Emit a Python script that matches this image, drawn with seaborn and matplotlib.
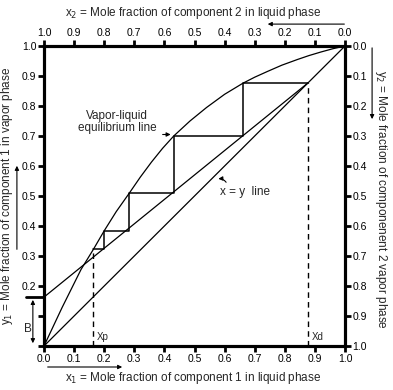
import matplotlib
matplotlib.use("Agg")
import matplotlib.pyplot as plt
import seaborn as sns
import pandas as pd

# ---- data ----
eq_x = [0.0, 0.06, 0.123, 0.164, 0.2, 0.24, 0.283, 0.32, 0.357, 0.394, 0.431, 0.485, 0.54,
        0.6, 0.661, 0.70, 0.742, 0.79, 0.842, 0.88, 0.92, 0.96, 1.0]
eq_y = [0.0, 0.128, 0.255, 0.322, 0.384, 0.448, 0.509, 0.563, 0.613, 0.659, 0.70, 0.750, 0.795,
        0.839, 0.876, 0.896, 0.915, 0.936, 0.955, 0.968, 0.98, 0.991, 1.0]
diag_x = [0.0, 1.0]
diag_y = [0.0, 1.0]
op_x = [0.0, 0.877]
op_y = [0.163, 0.877]
step_x = [0.877, 0.661, 0.661, 0.431, 0.431, 0.283, 0.283, 0.2, 0.2, 0.164]
step_y = [0.876, 0.876, 0.70, 0.70, 0.509, 0.509, 0.384, 0.384, 0.322, 0.322]
xp = 0.164
xp_top = 0.322
xd = 0.877
B = 0.163
ticks = [0.0, 0.1, 0.2, 0.3, 0.4, 0.5, 0.6, 0.7, 0.8, 0.9, 1.0]
tick_labels = ["0.0", "0.1", "0.2", "0.3", "0.4", "0.5", "0.6", "0.7", "0.8", "0.9", "1.0"]
left_labels = ["", "", "0.2", "0.3", "0.4", "0.5", "0.6", "0.7", "0.8", "0.9", "1.0"]

sns.set_style("ticks")
plt.rcParams["font.family"] = ["Liberation Sans", "DejaVu Sans"]

fig = plt.figure(figsize=(3.93, 3.90), dpi=100)
ax = fig.add_axes([44 / 393, 44 / 390, 301 / 393, 300 / 390])

lc = "black"
sns.lineplot(x=eq_x, y=eq_y, ax=ax, color=lc, lw=0.9, sort=False, estimator=None)
sns.lineplot(x=diag_x, y=diag_y, ax=ax, color=lc, lw=0.9, sort=False, estimator=None)
sns.lineplot(x=op_x, y=op_y, ax=ax, color=lc, lw=0.9, sort=False, estimator=None)
sns.lineplot(x=step_x, y=step_y, ax=ax, color=lc, lw=1.1, sort=False, estimator=None)
ax.plot([xp, xp], [0, xp_top], color=lc, lw=1.0, ls=(0, (4, 3)))
ax.plot([xd, xd], [0, xd], color=lc, lw=1.0, ls=(0, (4, 3)))

ax.set_xlim(0, 1)
ax.set_ylim(0, 1)
ax.set_xticks(ticks)
ax.set_xticklabels(tick_labels)
ax.set_yticks(ticks)
ax.set_yticklabels(left_labels)
ax.set_xlabel("")
ax.set_ylabel("")

ax2 = ax.twiny()
ax2.set_xlim(1, 0)
ax2.set_xticks(ticks)
ax2.set_xticklabels(tick_labels)
ax3 = ax.twinx()
ax3.set_ylim(1, 0)
ax3.set_yticks(ticks)
ax3.set_yticklabels(tick_labels)

for a in (ax, ax2, ax3):
    for s in a.spines.values():
        s.set_linewidth(2.2)
        s.set_color("black")
    a.tick_params(direction="out", length=4, width=2, pad=1.5, labelsize=7.5, colors="black")

fs = 8.5
# axis titles
ax.text(0.495, -0.107, "x$_1$ = Mole fraction of component 1 in liquid phase",
        ha="center", va="center", fontsize=fs, transform=ax.transAxes)
ax.text(0.495, 1.11, "x$_2$ = Mole fraction of component 2 in liquid phase",
        ha="center", va="center", fontsize=fs, transform=ax.transAxes)
ax.text(-0.123, 0.5, "y$_1$ = Mole fraction of component 1 in vapor phase",
        ha="center", va="center", rotation=90, fontsize=fs, transform=ax.transAxes)
ax.text(1.12, 0.49, "y$_2$ = Mole fraction of componenent 2 vapor phase",
        ha="center", va="center", rotation=-90, fontsize=fs, transform=ax.transAxes)

arr = dict(arrowstyle="-|>", color="black", lw=0.8, mutation_scale=6)
ax.annotate("", xy=(0.734, 1.073), xytext=(1.007, 1.073), xycoords="axes fraction",
            arrowprops=arr, annotation_clip=False)
ax.annotate("", xy=(0.269, -0.07), xytext=(0.003, -0.07), xycoords="axes fraction",
            arrowprops=arr, annotation_clip=False)
ax.annotate("", xy=(-0.09, 0.61), xytext=(-0.09, 0.313), xycoords="axes fraction",
            arrowprops=arr, annotation_clip=False)
ax.annotate("", xy=(1.09, 0.747), xytext=(1.09, 1.003), xycoords="axes fraction",
            arrowprops=arr, annotation_clip=False)

# B marker
ax.plot([-0.06, 0.0], [B, B], color="black", lw=2, clip_on=False)
ax.annotate("", xy=(-0.037, B), xytext=(-0.037, 0.0), xycoords="data",
            arrowprops=dict(arrowstyle="<|-|>", color="black", lw=0.8, mutation_scale=6),
            annotation_clip=False)
ax.text(-0.055, 0.055, "B", ha="center", va="center", fontsize=fs)

ax.text(xp + 0.012, 0.03, "Xp", ha="left", va="center", fontsize=7)
ax.text(xd + 0.012, 0.03, "Xd", ha="left", va="center", fontsize=7)

ax.text(0.243, 0.745, "Vapor-liquid\nequilibrium line", ha="center", va="center",
        fontsize=fs, linespacing=1.0)
ax.annotate("", xy=(0.43, 0.705), xytext=(0.385, 0.705),
            arrowprops=dict(arrowstyle="-|>", color="black", lw=0.8, mutation_scale=6))
ax.text(0.668, 0.513, "x = y  line", ha="center", va="center", fontsize=fs)
ax.annotate("", xy=(0.57, 0.556), xytext=(0.61, 0.538),
            arrowprops=dict(arrowstyle="-|>", color="black", lw=0.8, mutation_scale=6,
                            connectionstyle="arc3,rad=0.4"))

fig.savefig("out.png", dpi=100)
